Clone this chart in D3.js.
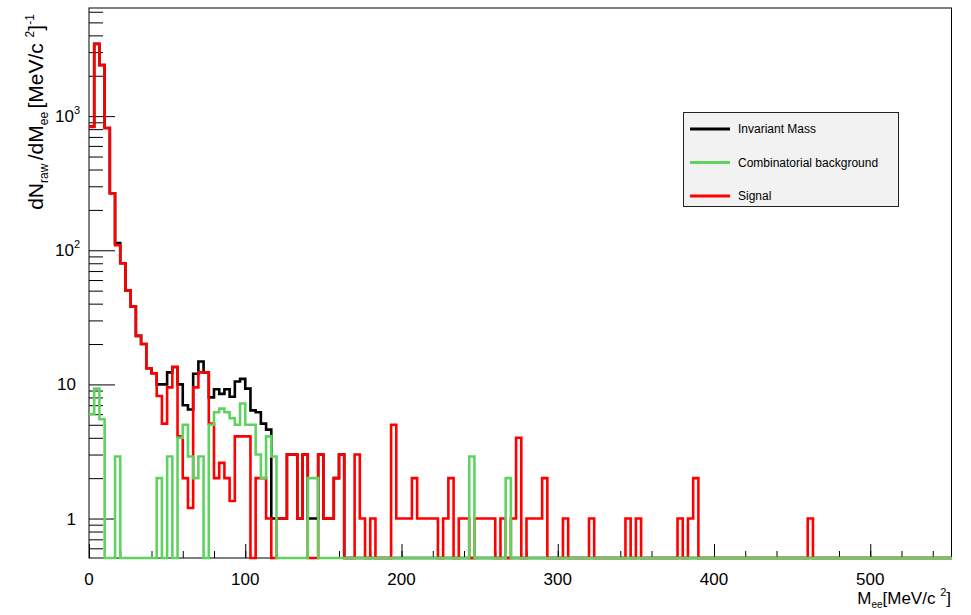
<!DOCTYPE html>
<html>
<head>
<meta charset="utf-8">
<script src="https://cdn.jsdelivr.net/npm/d3@7"></script>
<style>
  body { margin: 0; background: #fff; }
  text { font-family: "Liberation Sans", Arial, Helvetica, sans-serif; fill: #000; }
</style>
</head>
<body>
<script>
// histogram binning (MeV/c^2)
const binWidth = 10 / 3;
const nBins = 166;

// Signal (red)
const signal = [
  830, 3450, 2400, 815, 266, 109, 80, 50, 38, 23,
  20, 13.2, 12.1, 8.2, 5.1, 9.5, 13.5, 4.1, 2, 1.2,
  9.5, 12.3, 12.3, 5.1, 2, 2.6, 2, 1.35, 4.1, 4.1,
  4.1, 0, 2, 2, 1, 0, 1, 1, 3, 3,
  1, 3, 0, 0, 3, 1, 1, 2, 3, 0,
  0, 3, 1, 0, 1, 0, 0, 0, 5, 1,
  1, 1, 2, 1, 1, 1, 1, 0, 1, 2,
  0, 1, 1, 0, 1, 1, 1, 1, 0, 1,
  0, 1, 4, 0, 1, 1, 1, 2, 0, 0,
  0, 1, 0, 0, 0, 0, 1, 0, 0, 0,
  0, 0, 0, 1, 0, 1, 0, 0, 0, 0,
  0, 0, 0, 1, 0, 1, 2, 0, 0, 0,
  0, 0, 0, 0, 0, 0, 0, 0, 0, 0,
  0, 0, 0, 0, 0, 0, 0, 0, 1, 0
];

// Combinatorial background (green)
const background = [
  6, 9.3, 5.5, 0, 0, 2.9, 0, 0, 0, 0,
  0, 0, 0, 2, 0, 2.9, 0, 4, 5, 2.9,
  2, 2.9, 0, 5, 6.2, 6.6, 6.2, 5.6, 5, 7.2,
  5, 5, 3, 2, 4.1, 2.9, 0, 0, 0, 0,
  0, 0, 2, 2, 0, 0, 0, 0, 0, 0,
  0, 0, 0, 0, 0, 0, 0, 0, 0, 0,
  0, 0, 0, 0, 0, 0, 0, 0, 0, 0,
  0, 0, 0, 2.9, 0, 0, 0, 0, 0, 0,
  2
];

// Invariant mass (black)
const invMass = [
  836, 3459, 2405, 815, 266, 113, 80, 50, 38, 23,
  20, 13.2, 12.1, 10, 10, 12.3, 13.5, 10, 7, 6.5,
  12, 14.8, 12.3, 8, 9.2, 8.5, 9.2, 8.1, 10.5, 11,
  9.3, 6.4, 6.2, 5.1, 4.6, 1, 1, 1, 3, 3,
  1, 3, 1, 1, 3, 1, 1, 2, 3
];

const xMajor = [0, 100, 200, 300, 400, 500];
const xMinor = d3.range(0, 560, 20);
const yMajor = [1, 10, 100, 1000];
const yMinor = [0.6, 0.7, 0.8, 0.9, 2, 3, 4, 5, 6, 7, 8, 9, 20, 30, 40, 50, 60, 70, 80, 90,
                200, 300, 400, 500, 600, 700, 800, 900, 2000, 3000, 4000, 5000, 6000];
const yLabels = [["1", ""], ["10", ""], ["10", "2"], ["10", "3"]];
const legendLabels = ["Invariant Mass", "Combinatorial background", "Signal"];
const colors = ["#000000", "#5fd35f", "#ff0000"];

const svg = d3.select("body").append("svg")
  .attr("width", 971)
  .attr("height", 615);

const x = d3.scaleLinear().domain([0, 552]).range([89, 951.5]);
const y = d3.scaleLog().domain([0.508, 6400]).range([558, 8]);
const yMin = y.domain()[0];

// frame
svg.append("rect")
  .attr("x", 89).attr("y", 8)
  .attr("width", 862.5).attr("height", 550)
  .attr("fill", "none")
  .attr("stroke", "#000")
  .attr("stroke-width", 1);

// ticks (inside the frame)
function tickGroup(axis, transform) {
  svg.append("g")
    .attr("transform", transform)
    .call(axis)
    .call(g => g.select(".domain").remove())
    .call(g => g.selectAll("line").attr("stroke", "#000"));
}
tickGroup(d3.axisRight(y).tickValues(yMajor).tickSize(26).tickFormat(""), "translate(89,0)");
tickGroup(d3.axisRight(y).tickValues(yMinor).tickSize(14).tickFormat(""), "translate(89,0)");
tickGroup(d3.axisTop(x).tickValues(xMajor).tickSize(14).tickFormat(""), "translate(0,558)");
tickGroup(d3.axisTop(x).tickValues(xMinor).tickSize(7).tickFormat(""), "translate(0,558)");

// x labels
svg.append("g").selectAll("text")
  .data(xMajor)
  .join("text")
  .attr("x", d => x(d))
  .attr("y", 585)
  .attr("text-anchor", "middle")
  .attr("font-size", 17)
  .text(d => d);

// y labels
const yl = svg.append("g").selectAll("text")
  .data(yMajor)
  .join("text")
  .attr("x", (d, i) => yLabels[i][1] ? 80 : 76)
  .attr("y", d => y(d) + 6)
  .attr("text-anchor", "end")
  .attr("font-size", 17);
yl.append("tspan").text((d, i) => yLabels[i][0]);
yl.append("tspan")
  .attr("dy", -8)
  .attr("font-size", 11)
  .text((d, i) => yLabels[i][1]);

// axis titles
const yt = svg.append("text")
  .attr("transform", "translate(43,112) rotate(-90)")
  .attr("text-anchor", "middle")
  .attr("font-size", 21);
yt.append("tspan").text("dN");
yt.append("tspan").attr("font-size", 12).attr("dy", 5).text("raw ");
yt.append("tspan").attr("dy", -5).text("/dM");
yt.append("tspan").attr("font-size", 12).attr("dy", 5).text("ee ");
yt.append("tspan").attr("dy", -5).text("[MeV/c ");
yt.append("tspan").attr("font-size", 12).attr("dy", -9).text("2");
yt.append("tspan").attr("dy", 9).text("]");
yt.append("tspan").attr("font-size", 12).attr("dy", -9).text("-1");

const xt = svg.append("text")
  .attr("x", 951)
  .attr("y", 604)
  .attr("text-anchor", "end")
  .attr("font-size", 17);
xt.append("tspan").text("M");
xt.append("tspan").attr("font-size", 10).attr("dy", 4).text("ee");
xt.append("tspan").attr("dy", -4).text("[MeV/c ");
xt.append("tspan").attr("font-size", 11).attr("dy", -8).text("2");
xt.append("tspan").attr("dy", 8).text("]");

// histograms
svg.append("clipPath").attr("id", "clip")
  .append("rect").attr("x", 89).attr("y", 0).attr("width", 863).attr("height", 615);

const step = d3.line()
  .x(d => x(d[0]))
  .y(d => d[1] > 0 ? y(d[1]) : y(yMin))
  .curve(d3.curveStepAfter);

function histPoints(values) {
  const pts = d3.range(nBins).map(i => [i * binWidth, values[i] || 0]);
  pts.push([nBins * binWidth, values[nBins - 1] || 0]);
  pts.push([nBins * binWidth, 0]);
  return pts;
}

// drawing order: total, signal, background on top
const series = [invMass, signal, background];
const seriesColors = [colors[0], colors[2], colors[1]];
const histG = svg.append("g").attr("clip-path", "url(#clip)");
series.forEach((values, i) => {
  histG.append("path")
    .attr("d", step(histPoints(values)))
    .attr("fill", "none")
    .attr("stroke", seriesColors[i])
    .attr("stroke-width", 2.6)
    .attr("stroke-linejoin", "miter");
});

// legend
const legend = svg.append("g");
legend.append("rect")
  .attr("x", 683.5).attr("y", 112.5)
  .attr("width", 215).attr("height", 94)
  .attr("fill", "#f2f2f2")
  .attr("stroke", "#222")
  .attr("stroke-width", 1);

const legendY = d3.scalePoint().domain(legendLabels).range([129, 196]);
const items = legend.selectAll("g.item")
  .data(legendLabels)
  .join("g")
  .attr("class", "item")
  .attr("transform", d => `translate(0,${legendY(d)})`);
items.append("line")
  .attr("x1", 690).attr("x2", 730)
  .attr("stroke", (d, i) => colors[i])
  .attr("stroke-width", 2.8);
items.append("text")
  .attr("x", 738)
  .attr("y", 4)
  .attr("font-size", 12)
  .text(d => d);
</script>
</body>
</html>
